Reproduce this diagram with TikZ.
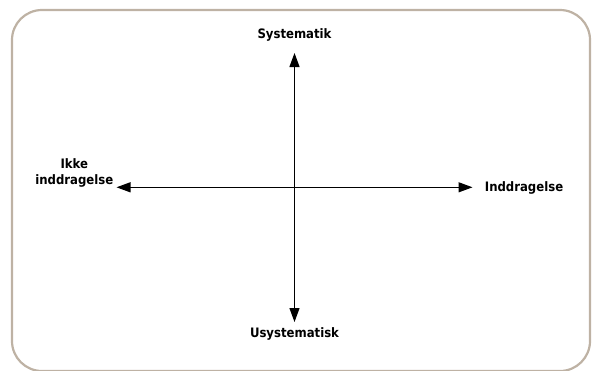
\documentclass[tikz,border=0pt]{standalone}
\usepackage{fontspec}
\setmainfont{DejaVu Sans Condensed}[BoldFont={DejaVu Sans Condensed Bold}]
\usetikzlibrary{arrows.meta}
\definecolor{framecol}{HTML}{BEB2A4}
\tikzset{
  lbl/.style={font=\fontsize{13pt}{15.5pt}\selectfont\bfseries, inner sep=0pt, text=black},
  axis/.style={line width=1.2pt, {Triangle[length=14pt,width=10pt]}-{Triangle[length=14pt,width=10pt]}},
  frame/.style={draw=framecol, line width=2.2pt, rounded corners=30pt}
}
\begin{document}
\begin{tikzpicture}[x=1pt,y=1pt]
\useasboundingbox (0,0) rectangle (593,-370);
\begin{scope}
\clip (0,0) rectangle (593,-370);
\draw[frame] (12,-10) rectangle (590,-371);
\end{scope}
\coordinate (top) at (294.5,-53);
\coordinate (bot) at (294.5,-322);
\coordinate (lft) at (116.5,-187.3);
\coordinate (rgt) at (472.5,-187.3);
\draw[axis] (bot) -- (top);
\draw[axis] (lft) -- (rgt);
\node[lbl, anchor=base] (sys) at (294.5,-38) {Systematik};
\node[lbl, anchor=base] (usys) at (294.5,-337.7) {Usystematisk};
\node[lbl, anchor=base west] (ind) at (484.7,-191.7) {Inddragelse};
\node[lbl, align=center, anchor=base] (ikke) at (74.3,-184) {Ikke\\inddragelse};
\end{tikzpicture}
\end{document}
